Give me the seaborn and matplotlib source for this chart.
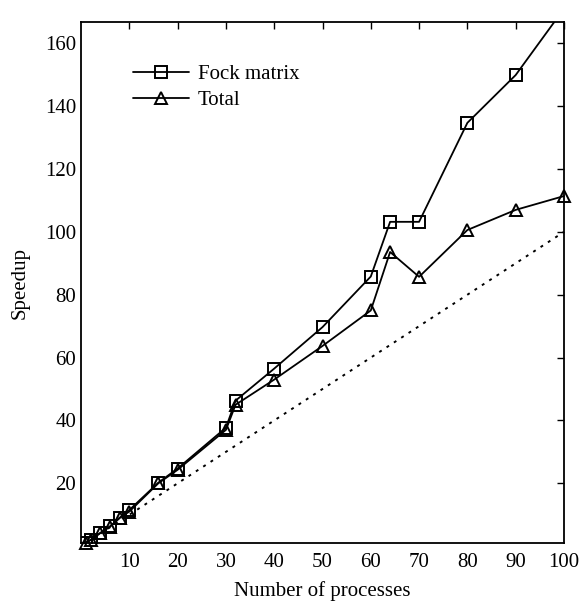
import numpy as np
import pandas as pd
import matplotlib
matplotlib.use("Agg")
import matplotlib.pyplot as plt
import seaborn as sns

# Data
procs = [1, 2, 4, 6, 8, 10, 16, 20, 30, 32, 40, 50, 60, 64, 70, 80, 90, 100]
fock = [1.0, 2.0, 4.2, 6.3, 9.0, 11.5, 20.2, 24.7, 37.7, 46.3, 56.5, 69.7, 85.8, 103.2, 103.2, 134.7, 149.9, 171.0]
total = [1.0, 2.0, 4.2, 6.2, 9.0, 11.0, 20.0, 24.3, 37.0, 45.0, 53.0, 63.7, 75.0, 93.6, 85.7, 100.6, 107.0, 111.4]
ideal_x = [1, 100]
ideal_y = [1, 100]

sns.set_theme(style="white")
plt.rcParams['font.family'] = ['Liberation Serif', 'DejaVu Serif']
plt.rcParams['font.size'] = 15
plt.rcParams['text.color'] = 'black'
plt.rcParams['axes.labelcolor'] = 'black'

df = pd.DataFrame({'procs': procs, 'Fock matrix': fock, 'Total': total})

fig = plt.figure(figsize=(5.79, 6.02), dpi=100)
ax = fig.add_axes([0.14, 0.098, 0.834, 0.865])

sns.lineplot(data=df, x='procs', y='Fock matrix', ax=ax, color='black', lw=1.3,
             marker='s', markersize=9, markerfacecolor='none', markeredgecolor='black',
             markeredgewidth=1.4, label='Fock matrix')
sns.lineplot(data=df, x='procs', y='Total', ax=ax, color='black', lw=1.3,
             marker='^', markersize=8, markerfacecolor='none', markeredgecolor='black',
             markeredgewidth=1.4, label='Total')
sns.lineplot(x=ideal_x, y=ideal_y, ax=ax, color='black', lw=1.4, linestyle=(0, (1.5, 3)))

# Total stays inside the frame, so let its edge markers show in full
ax.lines[1].set_clip_on(False)

ax.set_xlim(0, 100)
ax.set_ylim(1, 166.7)
ax.set_xticks(range(10, 101, 10))
ax.set_yticks(range(20, 161, 20))
ax.tick_params(direction='in', length=5, width=1, top=True, right=True,
               labelsize=15, colors='black')
ax.tick_params(axis='x', pad=7)
for s in ax.spines.values():
    s.set_color('black')
    s.set_linewidth(1.3)

ax.set_xlabel('Number of processes', fontsize=15, labelpad=7)
ax.set_ylabel('Speedup', fontsize=15, labelpad=11)

leg = ax.legend(loc='upper left', bbox_to_anchor=(0.108, 0.919), frameon=False,
                fontsize=15, handlelength=2.7, handletextpad=0.4, labelspacing=0.3,
                borderpad=0, borderaxespad=0)

fig.savefig('out.png', dpi=100)
